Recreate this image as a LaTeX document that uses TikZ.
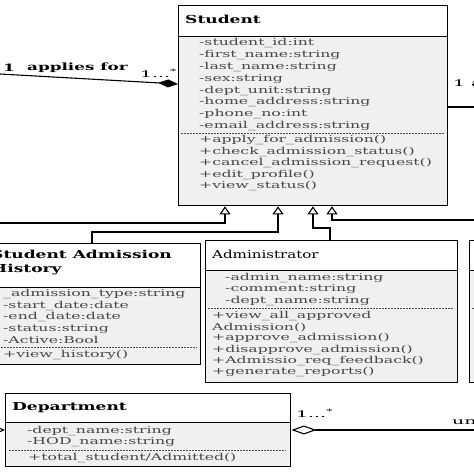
\documentclass[tikz,border=0pt]{standalone}
\usepackage{fontspec}
\setmainfont{DejaVu Serif}[FakeStretch=1.65]
\newfontfamily\ttlfont{DejaVu Serif}[FakeStretch=1.37]
\newfontfamily\ttlbfont{DejaVu Serif Bold}[FakeStretch=1.55]
\newfontfamily\lblfont{DejaVu Serif}[FakeStretch=2.1]
\newfontfamily\lblbfont{DejaVu Serif Bold}[FakeStretch=1.68]
\usetikzlibrary{arrows.meta}
\begin{document}
\begin{tikzpicture}[x=1pt,y=-1pt,
  box/.style={draw=black,line width=1.4pt,inner sep=0pt,anchor=north west},
  hsep/.style={line width=1pt},
  dsep/.style={line width=0.7pt,dash pattern=on 2pt off 1pt,black!70},
  comp/.style={fill=black!6},
  ttl/.style={anchor=west,inner sep=0pt,font=\ttlfont\fontsize{11}{14}\selectfont},
  ttlb/.style={anchor=west,inner sep=0pt,font=\ttlbfont\fontsize{11}{14}\selectfont},
  attr/.style={anchor=west,inner sep=0pt,text=black!72,font=\fontsize{9.5}{11}\selectfont},
  lbl/.style={anchor=west,inner sep=0pt,font=\lblfont\fontsize{9}{11}\selectfont},
  lblb/.style={anchor=west,inner sep=0pt,font=\lblbfont\fontsize{10}{12}\selectfont},
  conn/.style={line width=1.1pt},
  gen/.style={conn,-{Triangle[open,length=8pt,width=11pt,line width=1.1pt]}},
]
\useasboundingbox (0,0) rectangle (474,474);
\clip (0,0) rectangle (474,474);

% ---------- Student ----------
\fill[comp] (178,36) rectangle (447,205);
\node[box,minimum width=269pt,minimum height=200pt] (student) at (178,5) {};
\draw[hsep] (student.west|-0,36) -- (student.east|-0,36);
\draw[dsep] (181,133) -- (444,133);
\node[ttlb] (studentT) at (185,19) {Student};
\foreach \t [count=\i from 0] in {-student\_id:int,-first\_name:string,-last\_name:string,-sex:string,-dept\_unit:string,-home\_address:string,-phone\_no:int,-email\_address:string}
  \node[attr] (sa\i) at (199,43+11.9*\i) {\t};
\foreach \t [count=\i from 0] in {+apply\_for\_admission(),+check\_admission\_status(),+cancel\_admission\_request(),+edit\_profile(),+view\_status()}
  \node[attr] (sm\i) at (199,140+11.6*\i) {\t};

% ---------- Student Admission History ----------
\fill[comp] (-5,287) rectangle (200,364);
\node[box,minimum width=205pt,minimum height=121pt] (sah) at (-5,243) {};
\draw[hsep] (sah.west|-0,287) -- (sah.east|-0,287);
\draw[dsep] (-5,347) -- (197,347);
\node[ttlb,align=left] (sahT) at (-9,263) {Student Admission\\History};
\foreach \t [count=\i from 0] in {\_admission\_type:string,-start\_date:date,-end\_date:date,-status:string,-Active:Bool}
  \node[attr] (ha\i) at (3,294+11.6*\i) {\t};
\node[attr] (hm0) at (3,355) {+view\_history()};

% ---------- Administrator ----------
\fill[comp] (205,270) rectangle (457,382);
\node[box,minimum width=252pt,minimum height=142pt] (admin) at (205,240) {};
\draw[hsep] (admin.west|-0,270) -- (admin.east|-0,270);
\draw[dsep] (208,308) -- (454,308);
\node[ttl] (adminT) at (212,254) {Administrator};
\foreach \t [count=\i from 0] in {-admin\_name:string,-comment:string,-dept\_name:string}
  \node[attr] (aa\i) at (225,278+11.5*\i) {\t};
\foreach \t [count=\i from 0] in {+view\_all\_approved,Admission(),+approve\_admission(),+disapprove\_admission(),+Admissio\_req\_feedback(),+generate\_reports()}
  \node[attr] (am\i) at (212,316+11.2*\i) {\t};

% ---------- right (cut) class ----------
\fill[comp] (469,270) rectangle (490,382);
\node[box,minimum width=30pt,minimum height=142pt] (rbox) at (469,240) {};
\draw[hsep] (rbox.west|-0,270) -- (rbox.east|-0,270);
\draw[dsep] (472,308) -- (490,308);

% ---------- Department ----------
\fill[comp] (5,422) rectangle (290,466);
\node[box,minimum width=285pt,minimum height=73pt] (dept) at (5,393) {};
\draw[hsep] (dept.west|-0,422) -- (dept.east|-0,422);
\draw[dsep] (9,450) -- (286,450);
\node[ttlb] (deptT) at (12,408) {Department};
\node[attr] (da0) at (27,431) {-dept\_name:string};
\node[attr] (da1) at (27,442) {-HOD\_name:string};
\node[attr] (dm0) at (28,458) {+total\_student/Admitted()};

% ---------- associations ----------
\coordinate (appL) at (0,74);
\draw[conn,-{Diamond[length=20pt,width=8pt]}] (appL) -- (student.west|-0,84);
\node[lblb] (m1) at (3,68) {1};
\node[lblb] (appl) at (27,68) {applies for};
\node[lbl] (m2) at (140,73) {1...\textsuperscript{*}};

\coordinate (stR) at (474,107);
\draw[conn] (student.east|-0,107) -- (stR);
\node[lbl] (m3) at (453,83) {1 a};

% ---------- generalizations ----------
\coordinate (g1L) at (0,223);
\draw[gen] (g1L) -- (225,223) -- (225,0|-student.south);
\draw[gen] (sah.north-|92,0) -- (92,232) -- (278,232) -- (278,0|-student.south);
\draw[gen] (admin.north-|330,0) -- (330,228) -- (313,228) -- (313,0|-student.south);
\coordinate (g4R) at (474,220);
\draw[gen] (g4R) -- (332,220) -- (332,0|-student.south);

% ---------- department associations ----------
\coordinate (dR) at (474,430);
\draw[conn,{Diamond[open,length=25pt,width=9pt,line width=1.1pt]}-] (dept.east|-0,430) -- (dR);
\node[lbl] (m4) at (296,413) {1...\textsuperscript{*}};
\node[lbl] (m5) at (452,422) {un};
\coordinate (dL) at (-30,430);
\draw[conn,-{Diamond[open,length=18pt,width=8pt,line width=1.1pt]}] (dL) -- (dept.west|-0,430);
\end{tikzpicture}
\end{document}
